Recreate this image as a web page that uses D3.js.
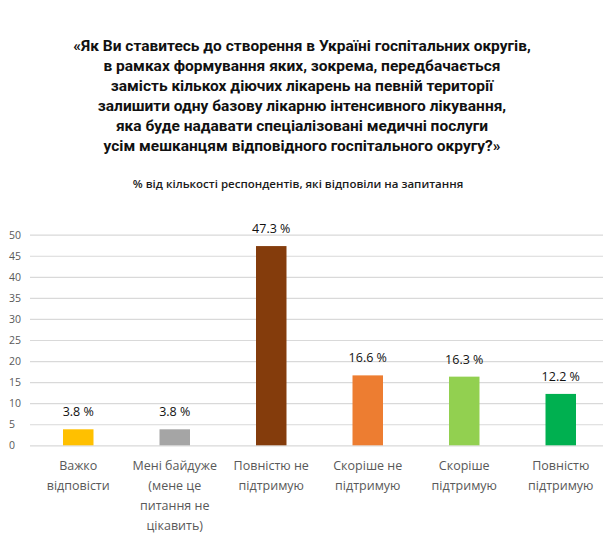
<!DOCTYPE html>
<html><head><meta charset="utf-8">
<script src="https://cdn.jsdelivr.net/npm/d3@7"></script>
<style>body{margin:0;background:#fff}svg{display:block}</style>
</head><body>
<svg id="c" width="603" height="560"></svg>
<script>
const categories = [
  ["Важко", "відповісти"],
  ["Мені байдуже", "(мене це", "питання не", "цікавить)"],
  ["Повністю не", "підтримую"],
  ["Скоріше не", "підтримую"],
  ["Скоріше", "підтримую"],
  ["Повністю", "підтримую"]
];
const values = [3.8, 3.8, 47.3, 16.6, 16.3, 12.2];
const colors = ["#FFC000", "#A5A5A5", "#843C0C", "#ED7D31", "#92D050", "#00B050"];
const yTicks = [0, 5, 10, 15, 20, 25, 30, 35, 40, 45, 50];
const titleLines = [
  "«Як Ви ставитесь до створення в Україні госпітальних округів,",
  "в рамках формування яких, зокрема, передбачається",
  "замість кількох діючих лікарень на певній території",
  "залишити одну базову лікарню інтенсивного лікування,",
  "яка буде надавати спеціалізовані медичні послуги",
  "усім мешканцям відповідного госпітального округу?»"
];
const subtitle = "% від кількості респондентів, які відповіли на запитання";

const font = "'Open Sans', 'Noto Sans', sans-serif";
const titleFont = "Roboto, 'Open Sans', sans-serif";
const svg = d3.select("#c");

const x = d3.scaleBand().domain(d3.range(categories.length)).range([30, 609]).paddingInner(0.684).paddingOuter(0.342);
const y = d3.scaleLinear().domain([0, 50]).range([445.3, 234.7]);

// title
svg.append("g").selectAll("text").data(titleLines).join("text")
  .attr("x", 302).attr("y", (d, i) => 50.5 + i * 20)
  .attr("text-anchor", "middle").attr("font-family", titleFont)
  .attr("font-weight", "bold").attr("font-size", 15.5).attr("fill", "#111")
  .text(d => d);

svg.append("text").attr("x", 298).attr("y", 188).attr("text-anchor", "middle")
  .attr("font-family", font).attr("font-weight", 600).attr("font-size", 11.5).attr("fill", "#1a1a1a")
  .text(subtitle);

// gridlines
const yAxis = d3.axisLeft(y).tickValues(yTicks).tickSize(-(609 - 30)).tickFormat(d3.format("d"));
const ga = svg.append("g").attr("transform", "translate(30,0)").call(yAxis);
ga.select(".domain").remove();
ga.selectAll(".tick line").attr("stroke", "#d9d9d9").attr("stroke-width", 1.2);
ga.selectAll(".tick text").attr("x", -21).attr("text-anchor", "start")
  .attr("font-family", font).attr("font-size", 10.5).attr("fill", "#595959");

// bars
svg.append("g").selectAll("rect").data(values).join("rect")
  .attr("x", (d, i) => x(i)).attr("width", x.bandwidth())
  .attr("y", d => y(d)).attr("height", d => y(0) - y(d))
  .attr("fill", (d, i) => colors[i]);

// value labels
svg.append("g").selectAll("text").data(values).join("text")
  .attr("x", (d, i) => x(i) + x.bandwidth() / 2).attr("y", d => y(d) - 13)
  .attr("text-anchor", "middle").attr("font-family", font).attr("font-size", 12.5)
  .attr("font-weight", 500).attr("fill", "#111")
  .text(d => d.toFixed(1) + " %");

// category labels
const cg = svg.append("g").selectAll("text").data(categories).join("text")
  .attr("text-anchor", "middle").attr("font-family", font).attr("font-size", 12.5).attr("fill", "#595959");
cg.selectAll("tspan").data((d, i) => d.map(t => ({t, i}))).join("tspan")
  .attr("x", d => x(d.i) + x.bandwidth() / 2)
  .attr("y", (d, j) => 470 + j * 20)
  .text(d => d.t);
</script>
</body></html>
